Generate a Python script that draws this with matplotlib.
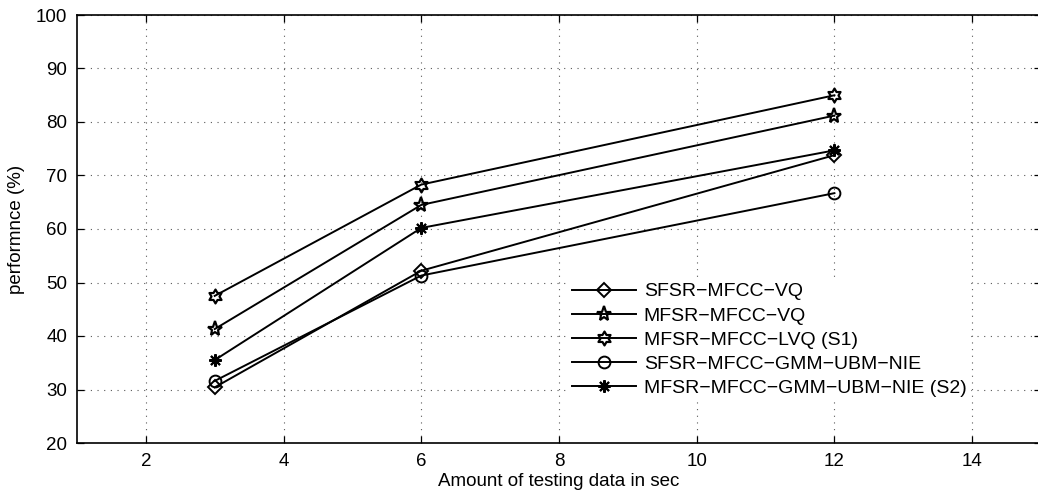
import numpy as np
import matplotlib
matplotlib.use('Agg')
import matplotlib.pyplot as plt
from matplotlib.path import Path

# data
test_secs = [3, 6, 12]
sfsr_vq = [30.4, 52.2, 73.8]
mfsr_vq = [41.3, 64.5, 81.2]
mfsr_lvq = [47.5, 68.3, 85.0]
sfsr_gmm = [31.6, 51.3, 66.7]
mfsr_gmm = [35.5, 60.2, 74.7]

labels = ['SFSR\u2212MFCC\u2212VQ', 'MFSR\u2212MFCC\u2212VQ', 'MFSR\u2212MFCC\u2212LVQ (S1)',
          'SFSR\u2212MFCC\u2212GMM\u2212UBM\u2212NIE', 'MFSR\u2212MFCC\u2212GMM\u2212UBM\u2212NIE (S2)']
xticks = [2, 4, 6, 8, 10, 12, 14]
yticks = [20, 30, 40, 50, 60, 70, 80, 90, 100]

plt.rcParams['font.family'] = ['Liberation Sans', 'DejaVu Sans']


# six pointed star like matlab's 'h' marker
def hexagram():
    ang = np.pi / 2 + np.arange(12) * np.pi / 6
    rad = np.where(np.arange(12) % 2 == 0, 1.0, 1 / np.sqrt(3))
    pts = np.column_stack([rad * np.cos(ang), rad * np.sin(ang)])
    pts = np.vstack([pts, pts[:1]])
    codes = [Path.MOVETO] + [Path.LINETO] * 11 + [Path.CLOSEPOLY]
    return Path(pts, codes)


W, H = 1038, 495
fig = plt.figure(figsize=(W / 100, H / 100), dpi=100)
ax = fig.add_axes([77 / W, 1 - 443 / H, (1041 - 77) / W, (443 - 15) / H])

# diamond, pentagram, hexagram, circle, asterisk
markers = [('D', 7.5, 1.4), ('*', 11, 1.6), (hexagram(), 10, 1.6), ('o', 8.5, 1.4), ((8, 2, 0), 9, 1.5)]
series = [sfsr_vq, mfsr_vq, mfsr_lvq, sfsr_gmm, mfsr_gmm]
for ys, lab, (m, ms, mew) in zip(series, labels, markers):
    ax.plot(test_secs, ys, color='black', linewidth=1.4, marker=m, markersize=ms,
            markerfacecolor='none', markeredgecolor='black', markeredgewidth=mew, label=lab)

ax.set_xlim(1, 15)
ax.set_ylim(20, 100)
ax.set_xticks(xticks)
ax.set_yticks(yticks)
ax.tick_params(direction='in', length=5, width=0.9, top=True, right=True, labelsize=13.5, pad=7)
ax.grid(True, linestyle=(0, (1, 5)), color='0.35', linewidth=0.8)
for sp in ax.spines.values():
    sp.set_linewidth(1.2)

ax.set_xlabel('Amount of testing data in sec', fontsize=13.5, labelpad=2)
ax.set_ylabel('performnce (%)', fontsize=13.5, labelpad=8)

leg = ax.legend(loc='upper left', bbox_to_anchor=(568 / W, 1 - 279 / H), bbox_transform=fig.transFigure,
                fontsize=14, handlelength=3.3, handletextpad=0.4, labelspacing=0.33,
                borderpad=0.2, borderaxespad=0, frameon=True, fancybox=False)
leg.get_frame().set_edgecolor('white')
leg.get_frame().set_facecolor('white')
leg.get_frame().set_alpha(1)

fig.savefig('out.png', dpi=100)
